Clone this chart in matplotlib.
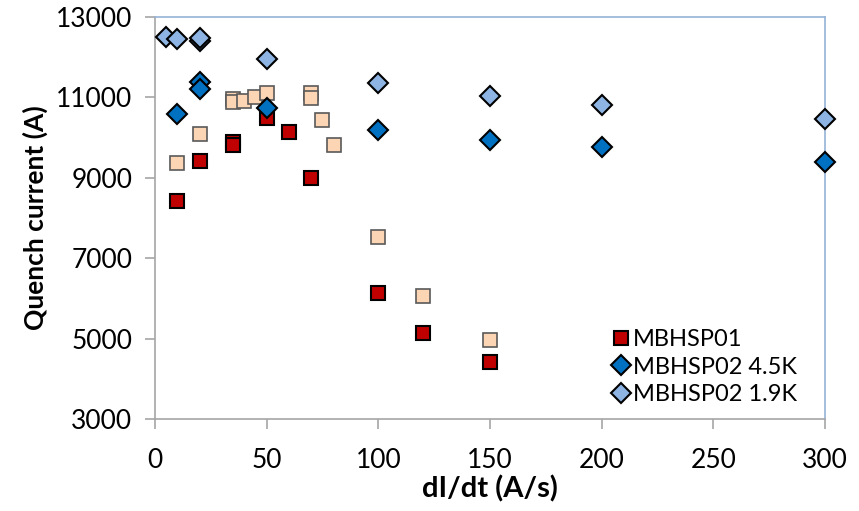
import matplotlib.pyplot as plt

# ==========================================
# Data
# ==========================================
# MBHSP01 (red squares)
sp01_x = [10, 20, 35, 35, 50, 60, 70, 100, 120, 150]
sp01_y = [8430, 9430, 9900, 9820, 10500, 10150, 9000, 6130, 5130, 4420]

# second MBHSP01 set (light peach squares, not in legend)
sp01b_x = [10, 20, 35, 35, 40, 45, 50, 70, 70, 75, 80, 100, 120, 150]
sp01b_y = [9380, 10080, 10950, 10880, 10900, 11000, 11100, 11100, 10980, 10450, 9820, 7530, 6060, 4970]

# MBHSP02 4.5K (dark blue diamonds)
sp02_45_x = [10, 20, 20, 50, 100, 150, 200, 300]
sp02_45_y = [10580, 11380, 11200, 10730, 10200, 9930, 9760, 9390]

# MBHSP02 1.9K (light blue diamonds)
sp02_19_x = [5, 10, 20, 20, 50, 100, 150, 200, 300]
sp02_19_y = [12500, 12450, 12400, 12480, 11950, 11350, 11030, 10800, 10470]

x_ticks = [0, 50, 100, 150, 200, 250, 300]
y_ticks = [3000, 5000, 7000, 9000, 11000, 13000]

plt.rcParams['font.family'] = ['Lato', 'DejaVu Sans']

fig = plt.figure(figsize=(8.59, 5.11), dpi=100)
ax = fig.add_axes([0.1804, 0.18, 0.78, 0.7867])

ax.plot(sp01b_x, sp01b_y, 's', ms=10, color='#fcd5b5', mec='#595959', mew=1.2,
        label='_nolegend_', zorder=3)
ax.plot(sp01_x, sp01_y, 's', ms=10, color='#c00000', mec='black', mew=1.5,
        label='MBHSP01', zorder=4)
ax.plot(sp02_45_x, sp02_45_y, 'D', ms=10.5, color='#0070c0', mec='black', mew=1.5,
        label='MBHSP02 4.5K', zorder=5, clip_on=False)
ax.plot(sp02_19_x, sp02_19_y, 'D', ms=10.5, color='#8db4e2', mec='black', mew=1.5,
        label='MBHSP02 1.9K', zorder=6, clip_on=False)

ax.set_xlim(0, 300)
ax.set_ylim(3000, 13000)
ax.set_xticks(x_ticks)
ax.set_yticks(y_ticks)
ax.tick_params(axis='both', labelsize=19, direction='out', length=7.2, width=1.2,
               pad=9, color='#a6a6a6', labelcolor='black')
ax.tick_params(axis='x', pad=14)

for side in ['left', 'bottom']:
    ax.spines[side].set_color('#a6a6a6')
    ax.spines[side].set_linewidth(1.2)
for side in ['top', 'right']:
    ax.spines[side].set_color('#95b3d7')
    ax.spines[side].set_linewidth(1.2)

ax.set_xlabel('dI/dt (A/s)', fontsize=21, fontweight='bold', labelpad=1)
ax.set_ylabel('Quench current (A)', fontsize=19, fontweight='bold', labelpad=6)

ax.legend(loc='upper left', bbox_to_anchor=(0.6675, 0.2475), frameon=False,
          fontsize=17, handletextpad=0.1, labelspacing=0.28, handlelength=0.8,
          borderaxespad=0)

fig.savefig('out.png', dpi=100)
